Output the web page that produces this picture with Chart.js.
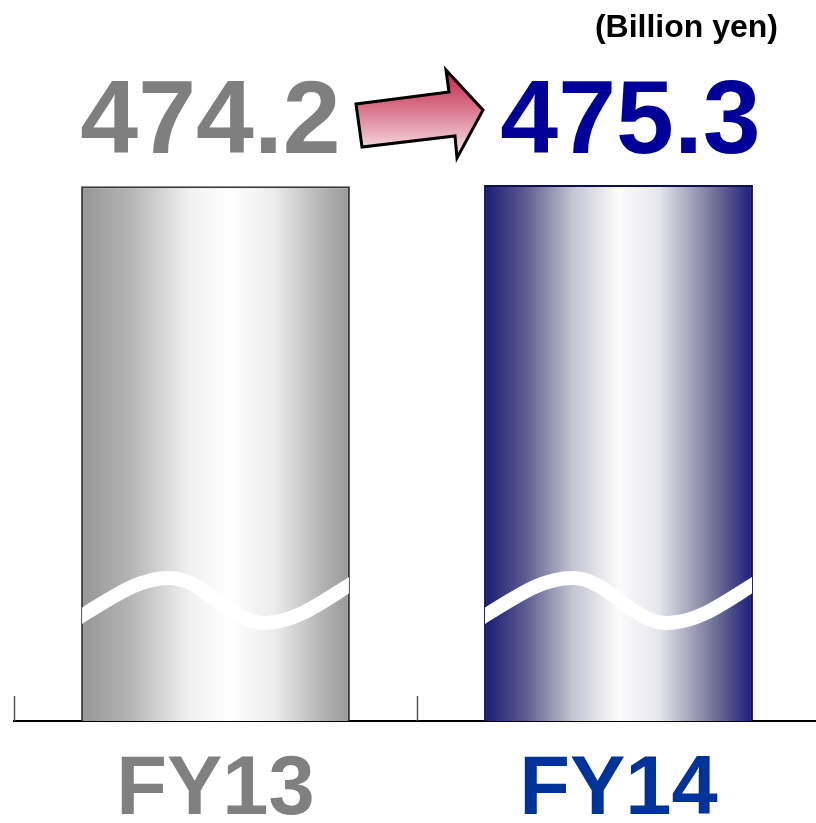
<!DOCTYPE html>
<html>
<head>
<meta charset="utf-8">
<script src="https://cdn.jsdelivr.net/npm/chart.js@4"></script>
<style>
html,body{margin:0;padding:0;background:#fff;overflow:hidden;}
canvas{display:block;}
</style>
</head>
<body>
<canvas id="c" width="822" height="863"></canvas>
<script>
const categories = ['FY13', 'FY14'];
const values = [474.2, 475.3];
const valueLabels = ['474.2', '475.3'];
const unitLabel = '(Billion yen)';
const labelColors = ['#808080', '#003399'];
const valueColors = ['#7f7f7f', '#000099'];
const barStops = [
  [[0,'#959595'],[0.18,'#b4b4b4'],[0.4,'#f0f0f0'],[0.55,'#ffffff'],[0.72,'#ececec'],[0.88,'#b8b8b8'],[1,'#989898']],
  [[0,'#1a1a78'],[0.15,'#5a5a8e'],[0.33,'#c4c4d4'],[0.5,'#fbfbfb'],[0.65,'#e6e6ee'],[0.85,'#767699'],[1,'#1c1c7c']]
];
const barBorders = ['#3a3a3a', '#101050'];

function barGradient(ctx) {
  const chart = ctx.chart;
  const i = ctx.dataIndex;
  const xs = chart.scales.x;
  if (!xs || !chart.chartArea) return barStops[i][0][1];
  const c = xs.getPixelForValue(i);
  const w = (xs.width / categories.length) * 0.667;
  const g = chart.ctx.createLinearGradient(c - w / 2, 0, c + w / 2, 0);
  barStops[i].forEach(s => g.addColorStop(s[0], s[1]));
  return g;
}

const decor = {
  id: 'decor',
  beforeDatasetsDraw(chart) {
    const ctx = chart.ctx;
    const area = chart.chartArea;
    const xs = chart.scales.x;
    const catW = xs.width / categories.length;
    ctx.save();
    ctx.strokeStyle = '#555';
    ctx.lineWidth = 1.5;
    for (let i = 0; i < categories.length; i++) {
      const bx = Math.round(xs.getPixelForValue(i) - catW / 2) + 0.5;
      ctx.beginPath();
      ctx.moveTo(bx, area.bottom - 25);
      ctx.lineTo(bx, area.bottom);
      ctx.stroke();
    }
    ctx.restore();
  },
  afterDatasetsDraw(chart) {
    const ctx = chart.ctx;
    const area = chart.chartArea;
    const meta = chart.getDatasetMeta(0);
    const B = area.bottom;
    meta.data.forEach((el, i) => {
      const W = el.width;
      const x0 = el.x - W / 2;
      ctx.save();
      ctx.beginPath();
      ctx.rect(x0 + 1, el.y + 1, W - 2, B - el.y - 1);
      ctx.clip();
      ctx.strokeStyle = '#ffffff';
      ctx.lineWidth = 14;
      ctx.beginPath();
      ctx.moveTo(x0 - 6, B - 101);
      ctx.bezierCurveTo(x0 + 0.14 * W, B - 128, x0 + 0.22 * W, B - 143, x0 + 0.33 * W, B - 143);
      ctx.bezierCurveTo(x0 + 0.46 * W, B - 143, x0 + 0.55 * W, B - 98, x0 + 0.68 * W, B - 98);
      ctx.bezierCurveTo(x0 + 0.8 * W, B - 98, x0 + 0.9 * W, B - 120, x0 + W + 6, B - 140);
      ctx.stroke();
      ctx.restore();

      ctx.save();
      ctx.font = 'bold 104px "Liberation Sans", Arial, sans-serif';
      ctx.fillStyle = valueColors[i];
      ctx.textAlign = 'center';
      ctx.textBaseline = 'alphabetic';
      const off = i === 0 ? -5 : 12;
      ctx.fillText(valueLabels[i], el.x + off, 153);
      ctx.restore();
    });

    ctx.save();
    const g = ctx.createLinearGradient(0, 70, 0, 158);
    g.addColorStop(0, '#c21e45');
    g.addColorStop(0.5, '#dc8296');
    g.addColorStop(1, '#faeef2');
    ctx.beginPath();
    ctx.moveTo(356, 104);
    ctx.lineTo(449, 92);
    ctx.lineTo(446, 70);
    ctx.lineTo(483, 110);
    ctx.lineTo(457, 158);
    ctx.lineTo(455, 136);
    ctx.lineTo(362, 147);
    ctx.closePath();
    ctx.fillStyle = g;
    ctx.fill();
    ctx.lineWidth = 3;
    ctx.lineJoin = 'miter';
    ctx.strokeStyle = '#000';
    ctx.stroke();
    ctx.restore();

    ctx.save();
    ctx.font = 'bold 32px "Liberation Sans", Arial, sans-serif';
    ctx.fillStyle = '#000';
    ctx.textAlign = 'right';
    ctx.textBaseline = 'alphabetic';
    ctx.fillText(unitLabel, 778, 37);
    ctx.restore();
  }
};

new Chart(document.getElementById('c'), {
  type: 'bar',
  data: {
    labels: categories,
    datasets: [{
      data: values,
      backgroundColor: barGradient,
      borderColor: barBorders,
      borderWidth: 2,
      borderSkipped: 'bottom',
      categoryPercentage: 1,
      barPercentage: 0.667
    }]
  },
  options: {
    responsive: false,
    animation: false,
    events: [],
    layout: { padding: { top: 185, left: 14, right: 2, bottom: 2 } },
    plugins: { legend: { display: false }, tooltip: { enabled: false }, title: { display: false } },
    scales: {
      y: { display: false, min: 0, max: 475.3 },
      x: {
        grid: { display: false, drawTicks: false },
        border: { display: true, color: '#000', width: 2 },
        ticks: {
          padding: 40,
          color: ctx => labelColors[ctx.index],
          font: { family: '"Liberation Sans", Arial, sans-serif', size: 83, weight: 'bold', lineHeight: '60px' }
        }
      }
    }
  },
  plugins: [decor]
});
</script>
</body>
</html>
